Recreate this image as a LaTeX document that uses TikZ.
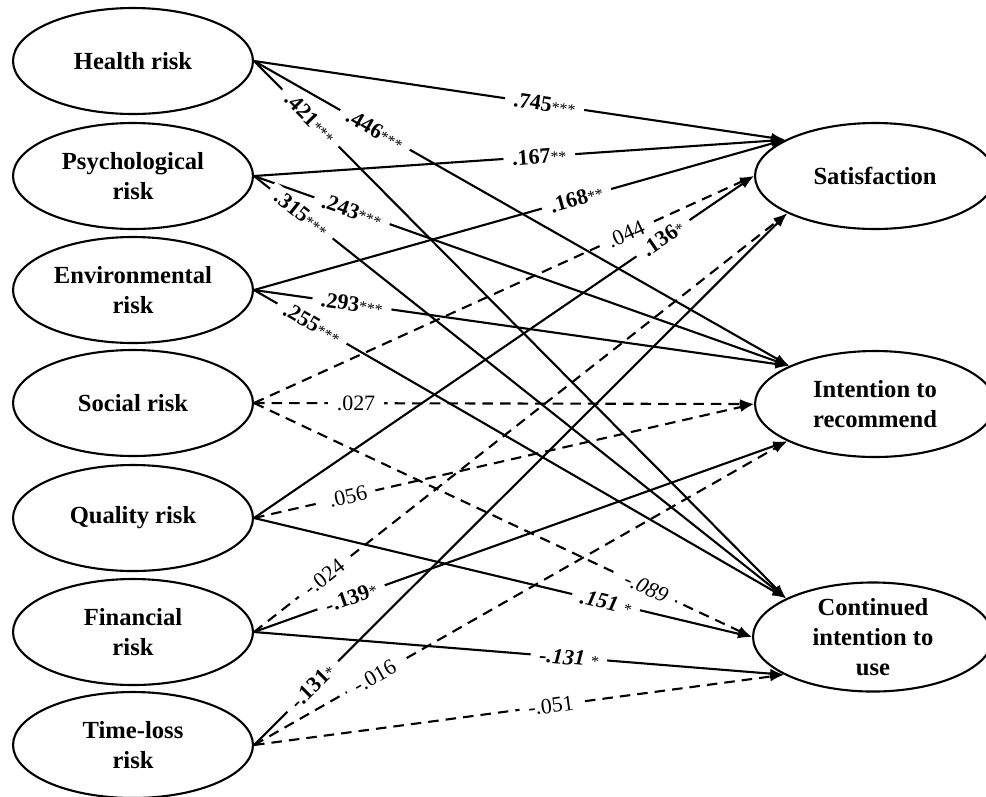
\documentclass[tikz,border=0pt]{standalone}
\usepackage{fontspec}
\setmainfont{Liberation Serif}
\usetikzlibrary{arrows.meta,shapes.geometric}
\newcommand\stars[1]{{\mdseries\fontsize{9}{9}\selectfont#1}}

\begin{document}
\begin{tikzpicture}[x=0.02cm,y=-0.02cm,
  risk/.style={draw,ellipse,line width=1.2pt,minimum width=4.8cm,minimum height=2.12cm,inner sep=0pt,align=center,font=\bfseries\fontsize{14}{17}\selectfont},
  eff/.style={line width=1.2pt,-{Latex[length=8pt,width=5.5pt]}},
  ns/.style={eff,dash pattern=on 6pt off 4pt},
  val/.style={fill=white,inner xsep=5pt,inner ysep=1pt,sloped,font=\bfseries\fontsize{12.5}{12.5}\selectfont},
  nval/.style={val,font=\fontsize{12.5}{12.5}\selectfont}]
\useasboundingbox (0,0) rectangle (986,796);
\clip (0,0) rectangle (986,796);
% risks
\node[risk] (health) at (133,61) {Health risk};
\node[risk] (psych) at (133,176) {Psychological\\risk};
\node[risk] (env) at (133,290) {Environmental\\risk};
\node[risk] (social) at (133,403) {Social risk};
\node[risk] (quality) at (133,518) {Quality risk};
\node[risk] (fin) at (133,632) {Financial\\risk};
\node[risk] (time) at (133,745) {Time-loss\\risk};
% outcomes
\node[risk] (sat) at (875,176) {Satisfaction};
\node[risk] (int) at (875,404) {Intention to\\recommend};
\node[risk] (cont) at (873,637) {Continued\\intention to\\use};
% paths
\draw[eff] (health.east) -- node[val,pos=.547]{.745\stars{***}} (sat.158);
\draw[eff] (health.east) -- node[val,pos=.226]{.446\stars{***}} (int.156);
\draw[eff] (health.east) -- node[val,pos=.106]{.421\stars{***}} (cont.156);
\draw[eff] (psych.east) -- node[val,pos=.537]{.167\stars{**}} (sat.158);
\draw[eff] (psych.east) -- node[val,pos=.183]{.243\stars{***}} (int.156);
\draw[eff] (psych.east) -- node[val,pos=.089]{.315\stars{***}} (cont.156);
\draw[eff] (env.east) -- node[val,pos=.607]{.168\stars{**}} (sat.158);
\draw[eff] (env.east) -- node[val,pos=.183]{.293\stars{***}} (int.156);
\draw[eff] (env.east) -- node[val,pos=.109]{.255\stars{***}} (cont.156);
\draw[ns] (social.east) -- node[nval,pos=.744]{.044} (sat.west);
\draw[ns] (social.east) -- node[nval,pos=.204]{.027} (int.west);
\draw[ns] (social.east) -- node[nval,pos=.788]{\itshape -.089} (cont.west);
\draw[eff] (quality.east) -- node[val,pos=.818]{.136\stars{*}} (sat.west);
\draw[ns] (quality.east) -- node[nval,pos=.188]{.056} (int.west);
\draw[eff] (quality.east) -- node[val,pos=.707]{\itshape .151 \stars{*}} (cont.west);
\draw[ns] (fin.east) -- node[nval,pos=.131]{-.024} (sat.203);
\draw[eff] (fin.east) -- node[val,pos=.182]{-.139\stars{*}} (int.203);
\draw[eff] (fin.east) -- node[val,pos=.594]{\itshape -.131 \stars{*}} (cont.203);
\draw[eff] (time.east) -- node[val,pos=.11]{-.131\stars{*}} (sat.203);
\draw[ns] (time.east) -- node[nval,pos=.226]{-.016} (int.203);
\draw[ns] (time.east) -- node[nval,pos=.56]{-.051} (cont.203);
\end{tikzpicture}
\end{document}
